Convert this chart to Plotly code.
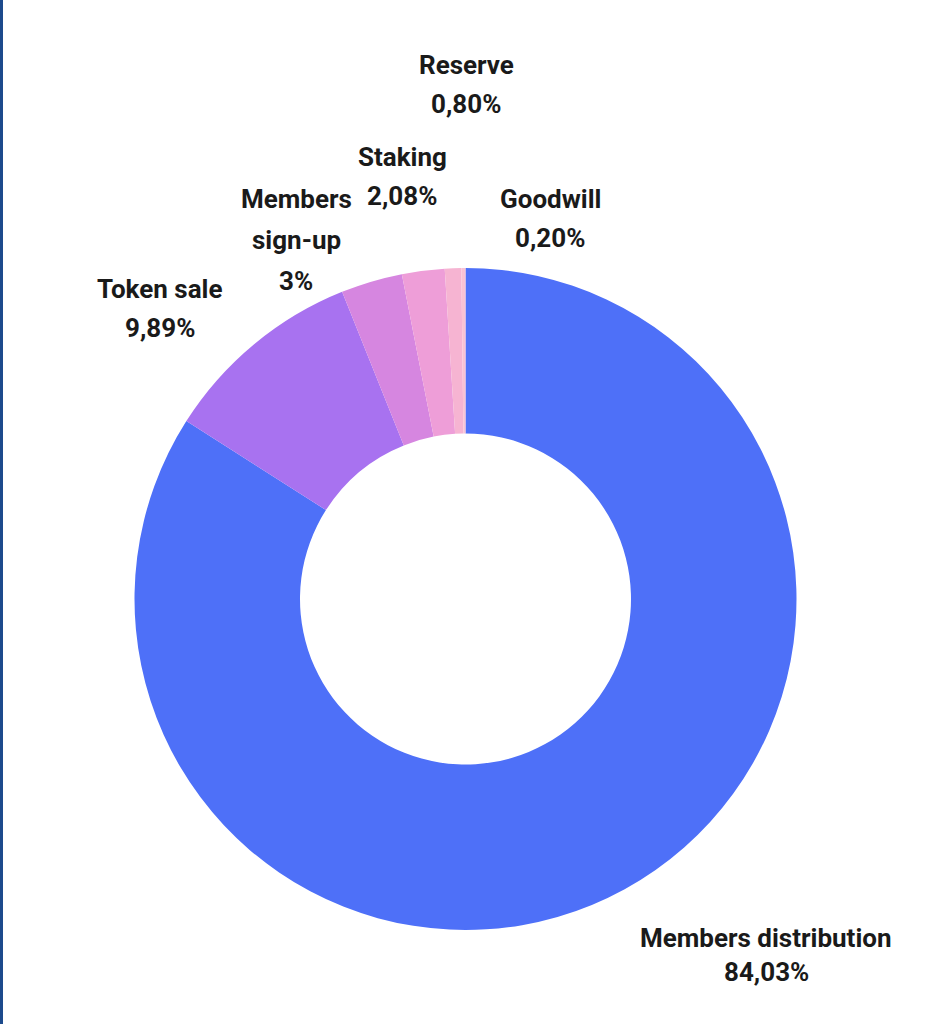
import plotly.graph_objects as go

labels = ["Members distribution", "Token sale", "Members sign-up", "Staking", "Reserve", "Goodwill"]
values = [84.03, 9.89, 3.00, 2.08, 0.80, 0.20]
value_texts = ["84,03%", "9,89%", "3%", "2,08%", "0,80%", "0,20%"]
label_lines = [["Members distribution"], ["Token sale"], ["Members", "sign-up"], ["Staking"], ["Reserve"], ["Goodwill"]]
colors = ["#4e70f8", "#a872f0", "#d686e0", "#ee9ed8", "#f6b4d2", "#f9c2d4"]

W, H = 952, 1024
# label block layout in pixels: (centre x, first line y, line spacing)
label_pos = [(766, 938, 34), (160, 289, 39), (296, 199, 41), (402, 157, 39), (466, 65, 39), (550, 199, 39)]

fig = go.Figure(go.Pie(
    labels=labels,
    values=values,
    hole=0.5,
    sort=False,
    direction="clockwise",
    rotation=0,
    marker=dict(colors=colors, line=dict(width=0)),
    textinfo="none",
    hoverinfo="label+percent",
    showlegend=False,
    domain=dict(x=[134 / W, 797 / W], y=[1 - 930 / H, 1 - 268 / H]),
))

font = dict(family="Roboto, Lato, sans-serif", size=26, color="#1a1a1a")
for lines, vt, (px, py, dy) in zip(label_lines, value_texts, label_pos):
    for i, line in enumerate(lines + [vt]):
        fig.add_annotation(
            x=px / W, y=1 - (py + i * dy) / H, xref="paper", yref="paper",
            text="<b>" + line + "</b>",
            showarrow=False, font=font, align="center",
            xanchor="center", yanchor="middle",
        )

fig.add_shape(type="rect", xref="paper", yref="paper",
              x0=0, x1=3 / W, y0=0, y1=1,
              fillcolor="#1c4a8c", line=dict(width=0), layer="above")

fig.update_layout(
    width=W, height=H,
    margin=dict(l=0, r=0, t=0, b=0),
    paper_bgcolor="white",
    plot_bgcolor="white",
)

fig.write_html("out.html", config={"displayModeBar": False},
               post_script="document.body.style.margin='0';")
